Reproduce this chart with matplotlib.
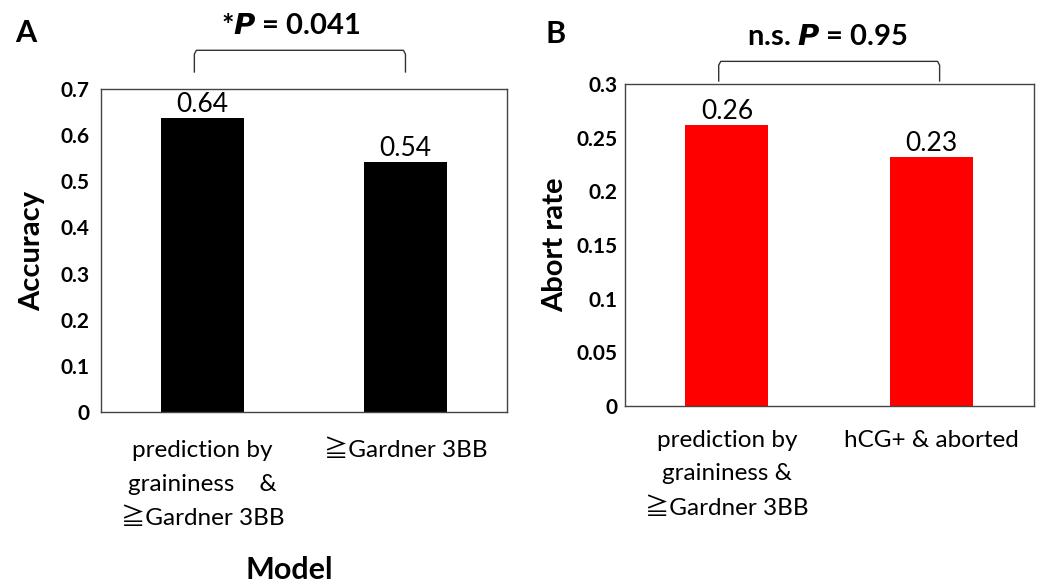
import matplotlib
matplotlib.use("Agg")
import matplotlib.pyplot as plt

plt.rcParams['font.family'] = ['Lato', 'Noto Sans CJK JP', 'DejaVu Sans']

# Data
cats_a = ["prediction by\ngraininess    &\n≧Gardner 3BB", "≧Gardner 3BB"]
vals_a = [0.637, 0.542]
labels_a = ["0.64", "0.54"]
yticks_a = [0, 0.1, 0.2, 0.3, 0.4, 0.5, 0.6, 0.7]
ytlab_a = ["0", "0.1", "0.2", "0.3", "0.4", "0.5", "0.6", "0.7"]

cats_b = ["prediction by\ngraininess &\n≧Gardner 3BB", "hCG+ & aborted"]
vals_b = [0.262, 0.232]
labels_b = ["0.26", "0.23"]
yticks_b = [0, 0.05, 0.1, 0.15, 0.2, 0.25, 0.3]
ytlab_b = ["0", "0.05", "0.1", "0.15", "0.2", "0.25", "0.3"]

fig = plt.figure(figsize=(10.41, 5.84), dpi=100)
axA = fig.add_axes([0.097, 0.2945, 0.390, 0.553])
axB = fig.add_axes([0.600, 0.3048, 0.393, 0.551])


def setup(ax, cats, vals, labels, yticks, ytlab, ymax, color, ylabel, pad_x, pad_y, lp):
    x = list(range(len(cats)))
    ax.bar(x, vals, width=0.405, color=color)
    for xi, v, lab in zip(x, vals, labels):
        ax.text(xi, v + ymax * 0.004, lab, ha='center', va='bottom', fontsize=19)
    ax.set_xlim(-0.5, 1.5)
    ax.set_ylim(0, ymax)
    ax.set_yticks(yticks)
    ax.set_yticklabels(ytlab, fontweight='bold', fontsize=15)
    ax.set_xticks(x)
    ax.set_xticklabels(cats, fontsize=17.5, linespacing=1.75, va='top')
    ax.tick_params(axis='y', length=0, pad=pad_y)
    ax.tick_params(axis='x', length=0, pad=pad_x)
    for s in ax.spines.values():
        s.set_color('#444444')
        s.set_linewidth(1.0)
    ax.set_ylabel(ylabel, fontsize=21, fontweight='bold', labelpad=lp)


def bracket(ax, x0, x1, ytop, ybot, r=0.012, rx=0.01):
    tr = ax.get_xaxis_transform()
    xs = [x0, x0, x0 + rx, x1 - rx, x1, x1]
    ys = [ybot, ytop - r, ytop, ytop, ytop - r, ybot]
    ax.plot(xs, ys, color='#333333', lw=1.0, transform=tr, clip_on=False)


setup(axA, cats_a, vals_a, labels_a, yticks_a, ytlab_a, 0.7, 'black', 'Accuracy', 20, 8, 11)
setup(axB, cats_b, vals_b, labels_b, yticks_b, ytlab_b, 0.3, '#ff0000', 'Abort rate', 17, 5, 6)

bracket(axA, -0.04, 1.0, 1.12, 1.053)
bracket(axB, -0.04, 1.04, 1.071, 1.01)

axA.text(0.468, 1.195, r'*$\boldsymbol{P}$ = 0.041', transform=axA.transAxes, ha='center', va='center',
         fontsize=21, fontweight='bold')
axB.text(0.496, 1.146, r'n.s. $\boldsymbol{P}$ = 0.95', transform=axB.transAxes, ha='center', va='center',
         fontsize=21, fontweight='bold')

fig.text(0.015, 0.944, 'A', fontsize=22, fontweight='bold', ha='left', va='center')
fig.text(0.524, 0.942, 'B', fontsize=22, fontweight='bold', ha='left', va='center')
fig.text(0.278, 0.024, 'Model', fontsize=22, fontweight='bold', ha='center', va='center')

fig.savefig('out.png', dpi=100)
